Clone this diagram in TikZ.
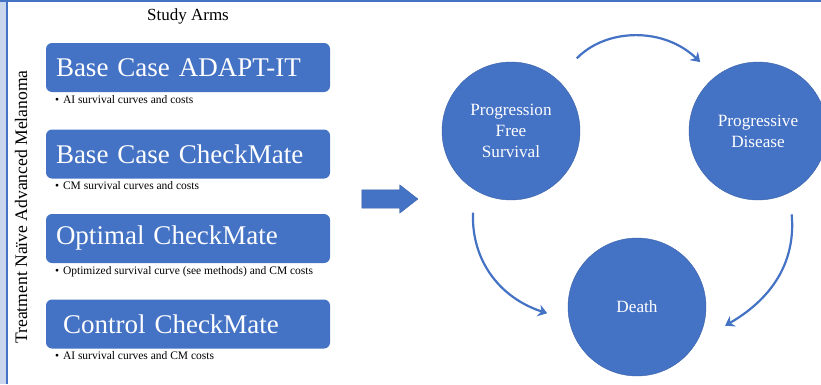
\documentclass[tikz,border=0pt]{standalone}
\usepackage{fontspec}
\setmainfont{Liberation Serif}
\usepackage{tikz}
\usetikzlibrary{positioning,shapes.arrows,arrows.meta}
\definecolor{officeblue}{HTML}{4472C4}
\definecolor{stripblue}{HTML}{C9D6EE}

\begin{document}
\begin{tikzpicture}[x=1pt, y=1pt,
  arm/.style = {shape=rectangle, rounded corners=6pt, fill=officeblue,
    text=white, minimum height=49pt, text width=264pt, inner xsep=10pt,
    align=left, font=\fontsize{27}{30}\selectfont},
  note/.style = {inner sep=0pt, font=\fontsize{11.5}{13}\selectfont},
  state/.style = {shape=circle, fill=officeblue, draw=officeblue!85!black,
    minimum size=138pt, inner sep=0pt, outer sep=21pt, text=white,
    align=center, font=\fontsize{17.2}{21}\selectfont},
  flow/.style = {draw=officeblue, line width=2.2pt,
    -{Stealth[length=9pt,width=12pt,inset=3pt]}}]
  \useasboundingbox (0,0) rectangle (821,384);
  \fill[stripblue] (0,0) rectangle (6,384);
  \draw[officeblue, line width=1.5pt] (7,0) -- (7,384);
  \draw[officeblue, line width=2pt] (0,383) -- (821,383);

  \node (title) at (188,368) {\fontsize{17}{20}\selectfont Study Arms};
  \node[rotate=90] (side) at (21,177)
    {\fontsize{17.6}{20}\selectfont Treatment Naïve Advanced Melanoma};

  \node[arm] (arm1) at (188,316.5) {Base Case ADAPT-IT};
  \node[arm] (arm2) at (188,230) {Base Case CheckMate};
  \node[arm] (arm3) at (188,145.5) {Optimal CheckMate};
  \node[arm] (arm4) at (188,60) {\hspace*{7pt}Control CheckMate};
  \node[note, below right=3pt and 9pt of arm1.south west] (note1)
    {\textbullet\hspace{4pt}AI survival curves and costs};
  \node[note, below right=3pt and 9pt of arm2.south west] (note2)
    {\textbullet\hspace{4pt}CM survival curves and costs};
  \node[note, below right=3pt and 9pt of arm3.south west] (note3)
    {\textbullet\hspace{4pt}Optimized survival curve (see methods) and CM costs};
  \node[note, below right=3pt and 9pt of arm4.south west] (note4)
    {\textbullet\hspace{4pt}AI survival curves and CM costs};

  \node[shape=single arrow, fill=officeblue, draw=officeblue!85!black,
    minimum height=56pt, inner xsep=0pt, inner ysep=9pt,
    single arrow head extend=5pt, single arrow tip angle=76] (go) at (384,185) {};

  \node[state] (pfs) at (511,253) {Progression\\Free\\Survival};
  \node[state] (pd) at (758,253) {Progressive\\Disease};
  \node[state] (death) at (637,77) {Death};
  \draw[flow, shorten <=8pt] (pfs.48) to[bend left=45] (pd.130);
  \draw[flow] (pfs.245) to[out=268, in=162] (death.184);
  \draw[flow] (pd.292) to[out=-85, in=30] (death.348);
\end{tikzpicture}
\end{document}
